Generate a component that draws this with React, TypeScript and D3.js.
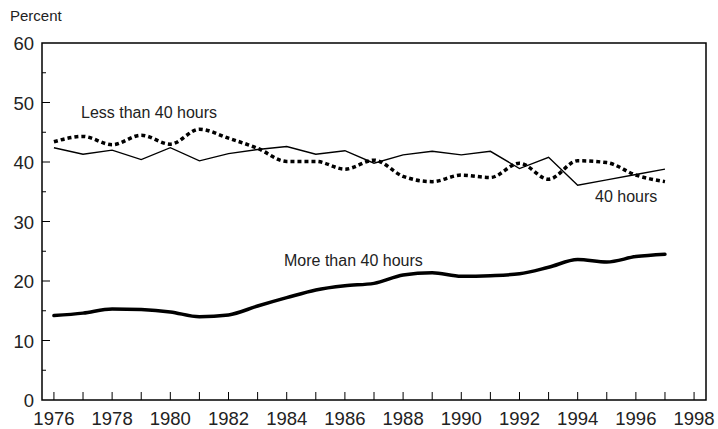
import React from 'react';
import * as d3 from 'd3';

const years = d3.range(1976, 1998);
const fortyHours = [42.4, 41.3, 42.0, 40.4, 42.4, 40.2, 41.4, 42.1, 42.6, 41.3, 41.9, 39.8, 41.2, 41.8, 41.2, 41.8, 38.9, 40.8, 36.1, 37.0, 37.9, 38.8];
const lessThan40 = [43.4, 44.3, 42.9, 44.5, 43.0, 45.5, 44.0, 42.3, 40.1, 40.1, 38.8, 40.3, 37.6, 36.7, 37.8, 37.4, 39.8, 37.1, 40.2, 39.9, 37.8, 36.7];
const moreThan40 = [14.2, 14.6, 15.3, 15.2, 14.8, 14.0, 14.3, 15.8, 17.2, 18.5, 19.2, 19.6, 21.0, 21.4, 20.8, 20.9, 21.2, 22.3, 23.6, 23.2, 24.1, 24.5];
const yTicks = [0, 10, 20, 30, 40, 50, 60];
const yMinor = [5, 15, 25, 35, 45, 55];
const xLabels = d3.range(1976, 1999, 2);
const xTicks = d3.range(1976, 1999);

const W = 718;
const H = 429;
const left = 42, right = 706, top = 43, bottom = 400;
const font = "Liberation Sans, Arial, Helvetica, sans-serif";

export default function App() {
  const x = d3.scaleLinear().domain([1975.59, 1998.41]).range([left, right]);
  const y = d3.scaleLinear().domain([0, 60]).range([bottom, top]);

  const line = (vals: number[], curve: d3.CurveFactory) =>
    d3.line<number>()
      .x((_, i) => x(years[i]))
      .y(d => y(d))
      .curve(curve)(vals) as string;

  return (
    <svg width={W} height={H} style={{position: "absolute", left: 0, top: 0}}>
      <rect width={W} height={H} fill="#fff" />
      <text x={10} y={21} fontSize={15} fontFamily={font} fill="#222">Percent</text>

      <rect x={left} y={top} width={right - left} height={bottom - top} fill="none" stroke="#000" strokeWidth={1.5} />

      {yTicks.map(t => (
        <g key={t}>
          {t > 0 && t < 60 && <line x1={left} x2={left + 8} y1={y(t)} y2={y(t)} stroke="#000" strokeWidth={1} />}
          <text x={34} y={y(t) + 7} textAnchor="end" fontSize={18.5} fontFamily={font} fill="#222">{t}</text>
        </g>
      ))}
      {yMinor.map(t => (
        <line key={t} x1={left} x2={left + 4} y1={y(t)} y2={y(t)} stroke="#000" strokeWidth={1} />
      ))}
      {xTicks.map(t => (
        <line key={t} x1={x(t)} x2={x(t)} y1={bottom} y2={bottom - 8} stroke="#000" strokeWidth={1} />
      ))}
      {xLabels.map(t => (
        <text key={t} x={x(t)} y={425} textAnchor="middle" fontSize={18.5} fontFamily={font} fill="#222">{t}</text>
      ))}

      <path d={line(fortyHours, d3.curveLinear)} fill="none" stroke="#000" strokeWidth={1.4} />
      <path d={line(lessThan40, d3.curveMonotoneX)} fill="none" stroke="#000" strokeWidth={3.5} strokeDasharray="4 3" />
      <path d={line(moreThan40, d3.curveMonotoneX)} fill="none" stroke="#000" strokeWidth={3.5} strokeLinejoin="round" strokeLinecap="round" />

      <text x={81} y={118} fontSize={16} fontFamily={font} fill="#222">Less than 40 hours</text>
      <text x={284} y={266} fontSize={16} fontFamily={font} fill="#222">More than 40 hours</text>
      <text x={595} y={202} fontSize={16} fontFamily={font} fill="#222">40 hours</text>
    </svg>
  );
}
